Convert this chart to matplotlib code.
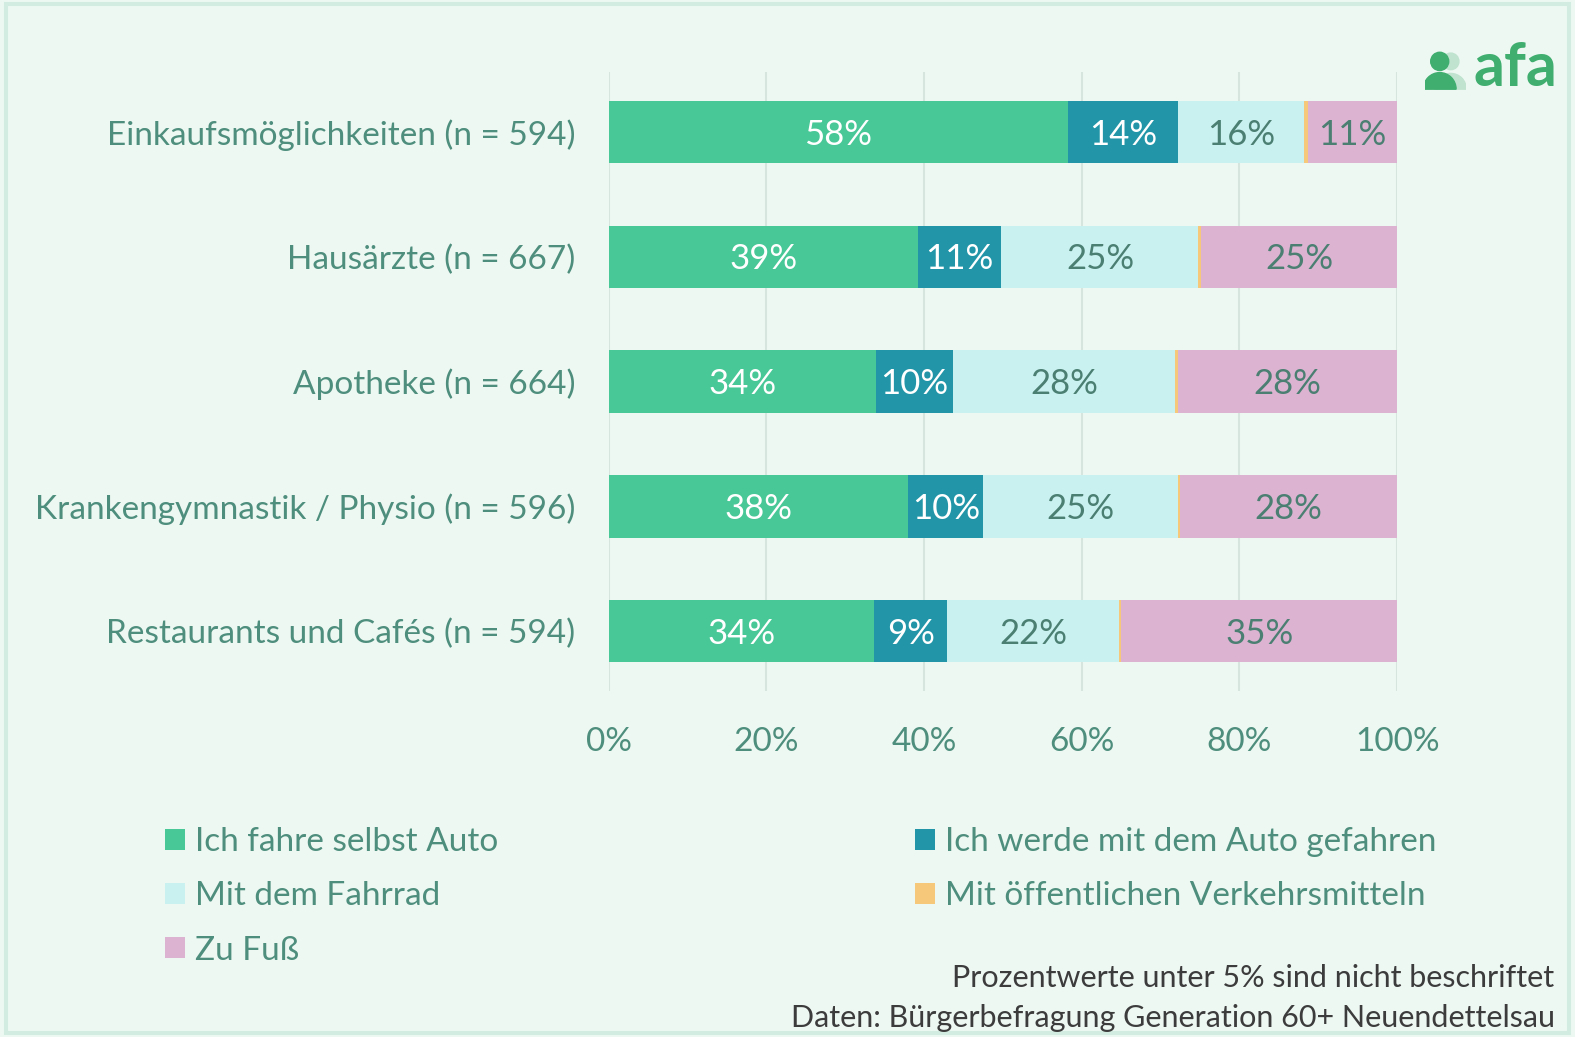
import matplotlib
matplotlib.use("Agg")
import matplotlib.pyplot as plt
from matplotlib.patches import Rectangle, Circle, Wedge
import numpy as np

# data
categories = ["Einkaufsmöglichkeiten (n = 594)", "Hausärzte (n = 667)", "Apotheke (n = 664)",
              "Krankengymnastik / Physio (n = 596)", "Restaurants und Cafés (n = 594)"]
series_names = ["Ich fahre selbst Auto", "Ich werde mit dem Auto gefahren", "Mit dem Fahrrad",
                "Mit öffentlichen Verkehrsmitteln", "Zu Fuß"]
auto_selbst = [58.2, 39.2, 33.9, 38.0, 33.7]
auto_gefahren = [14.0, 10.6, 9.8, 9.5, 9.2]
fahrrad = [16.0, 25.0, 28.1, 24.7, 21.8]
oepnv = [0.5, 0.3, 0.4, 0.2, 0.3]
zu_fuss = [11.3, 24.9, 27.8, 27.6, 35.0]
x_ticks = [0, 20, 40, 60, 80, 100]
tick_labels = ["0%", "20%", "40%", "60%", "80%", "100%"]

colors = ["#48c797", "#2296a8", "#c9f1f0", "#f6c97a", "#dcb3d1"]
label_colors = ["white", "white", "#4b7f72", "#4b7f72", "#4b7f72"]
text_col = "#4e8e7c"
bg = "#eef8f3"
logo_green = "#3fae6e"

plt.rcParams['font.family'] = ['Lato', 'DejaVu Sans']

fig = plt.figure(figsize=(15.75, 10.37), dpi=100, facecolor=bg)
fig.patches.append(Rectangle((0.004, 0.004), 0.992, 0.992, transform=fig.transFigure,
                             fill=False, edgecolor="#d3ece1", linewidth=3))
ax = fig.add_axes([0.3865, 0.3337, 0.5006, 0.5966])
ax.set_facecolor(bg)

all_series = [auto_selbst, auto_gefahren, fahrrad, oepnv, zu_fuss]
y = np.arange(len(categories))
left = np.zeros(len(categories))
handles = []
for i, vals in enumerate(all_series):
    vals = np.array(vals)
    bars = ax.barh(y, vals, left=left, height=0.5, color=colors[i], label=series_names[i], zorder=3)
    handles.append(bars)
    for j, v in enumerate(vals):
        if v >= 5:
            ax.text(left[j] + v / 2, y[j] + 0.02, "%d%%" % round(v), ha="center", va="center",
                    fontsize=25, color=label_colors[i], zorder=4)
    left += vals

ax.set_ylim(4.48, -0.48)
ax.set_xlim(0, 100)
ax.set_xticks(x_ticks)
ax.set_xticklabels(tick_labels)
ax.set_yticks(y)
ax.set_yticklabels(categories)
ax.tick_params(axis="x", length=0, pad=26, labelsize=24, labelcolor=text_col)
ax.tick_params(axis="y", length=0, pad=24, labelsize=24, labelcolor=text_col)
ax.grid(axis="x", color="#d6e6df", linewidth=1.5, zorder=0)
for s in ax.spines.values():
    s.set_visible(False)

# legend, row-major order
order = [0, 2, 4, 1, 3]
fig.legend([handles[k] for k in order], [series_names[k] for k in order], ncol=2,
           loc="upper left", bbox_to_anchor=(0.0965, 0.2155), frameon=False, fontsize=24,
           labelcolor=text_col, handlelength=0.6, handleheight=0.6, handletextpad=0.3,
           columnspacing=12.5, labelspacing=0.73, borderaxespad=0)

fig.text(0.987, 0.057, "Prozentwerte unter 5% sind nicht beschriftet", ha="right", va="center",
         fontsize=22, color="#3c3c3c")
fig.text(0.987, 0.018, "Daten: Bürgerbefragung Generation 60+ Neuendettelsau", ha="right", va="center",
         fontsize=22, color="#3c3c3c")

# logo
fig.text(0.989, 0.934, "afa", ha="right", va="center", fontsize=44, fontweight="bold", color=logo_green)
lax = fig.add_axes([0.905, 0.912, 0.026, 0.04])
lax.set_xlim(0, 1)
lax.set_ylim(0, 1)
lax.axis("off")
lax.add_patch(Circle((0.62, 0.72), 0.2, color="#bfe3cf"))
lax.add_patch(Wedge((0.62, 0.05), 0.38, 0, 180, color="#bfe3cf"))
lax.add_patch(Circle((0.35, 0.72), 0.22, color=logo_green))
lax.add_patch(Wedge((0.35, 0.05), 0.4, 0, 180, color=logo_green))

fig.savefig("out.png", dpi=100, facecolor=bg)
